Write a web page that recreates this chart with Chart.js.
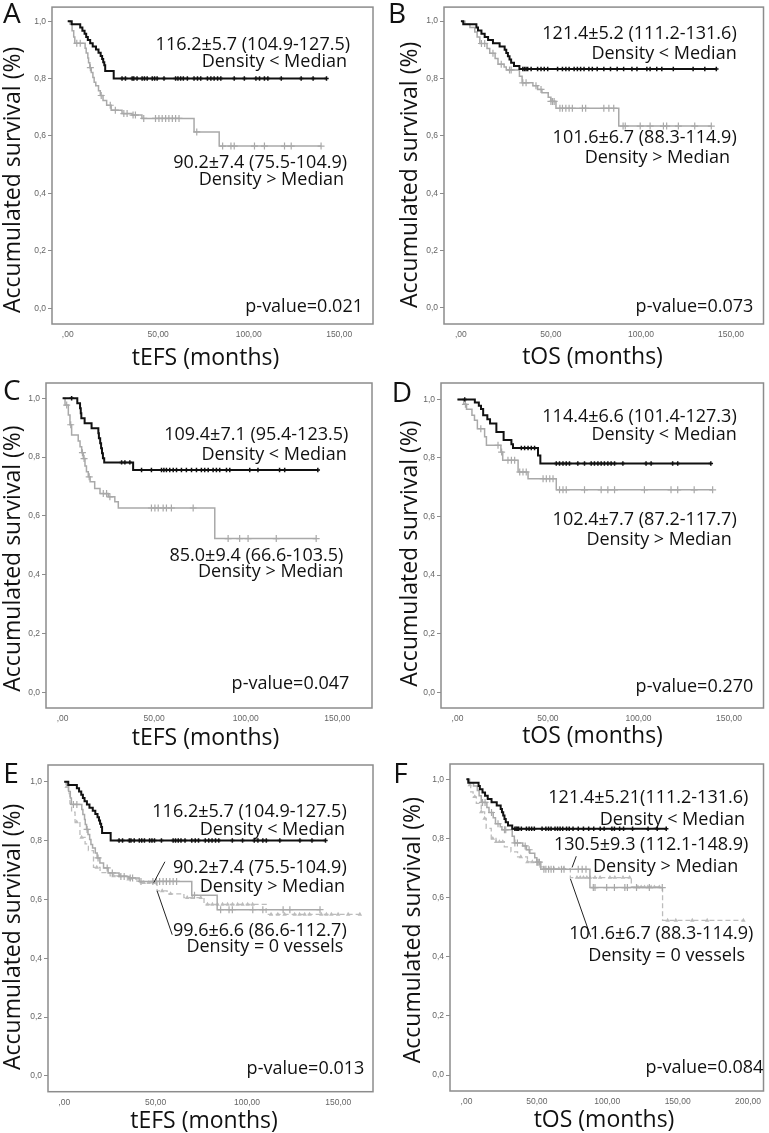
<!DOCTYPE html>
<html><head><meta charset="utf-8">
<script src="https://cdn.jsdelivr.net/npm/chart.js@4"></script>
<style>
html,body{margin:0;padding:0;background:#fff;}
#wrap{position:relative;width:769px;height:1133px;overflow:hidden;}
canvas{position:absolute;}
</style></head><body><div id="wrap"></div>
<script>
// ---------- DATA ----------
const yTickVals = [0, 0.2, 0.4, 0.6, 0.8, 1.0];
const yTickLabels = ['0,0', '0,2', '0,4', '0,6', '0,8', '1,0'];
const xTickVals = [0, 50, 100, 150, 200];
const xTickLabels = [',00', '50,00', '100,00', '150,00', '200,00'];
const yTitle = 'Accumulated survival (%)';

// tEFS, Density < Median
const A_lowT = [2.2,6.9,8.1,9.3,10.2,11.1,12.4,13.8,15.6,17.0,18.2,19.0,19.6,20.2,20.7,25.4];
const A_lowS = [.989,.978,.967,.956,.945,.934,.923,.912,.901,.890,.879,.868,.857,.846,.826,.800];
const A_lowC = [30,31.9,35.6,36.5,38.3,41.1,42.4,43.9,46.7,48,49.4,53.2,59.6,60.9,62.4,63.9,66.1,69.8,71.7,73.5,77.2,79.1,80.9,82.8,84.6,92,97.6,104,106,108.7,110.6,118,129,135.6,143];
// tEFS, Density > Median
const A_highT = [1.3,2.4,3.3,3.9,9.6,10.2,11.1,11.5,12.2,13.0,13.9,14.6,15.5,17.0,18.0,19.5,21.5,24.0,30.0,35.5,41.0,69.8,83.7];
const A_highS = [.989,.967,.945,.923,.906,.889,.872,.855,.838,.821,.804,.787,.775,.758,.741,.724,.707,.690,.678,.673,.661,.614,.565];
const A_highC = [5,6.9,12.5,18.5,23.5,26.3,31,32.8,36.1,37.4,42,48.5,50.4,52.2,54.1,55.9,57.8,59.6,61.5,71.3,85.6,90.2,92,103.2,108.7,119.8,123.5,140];
// tOS, Density < Median
const B_lowT = [1.3,8.6,9.5,11.4,13.2,15.1,17.8,21.5,24.3,25.2,26.1,27.0,27.9,29.5,32.5];
const B_lowS = [.989,.978,.967,.956,.945,.934,.923,.912,.900,.889,.878,.866,.855,.844,.833];
const B_lowC = [34.4,35.3,36.2,37.1,39,42.6,44.5,46.3,48.2,53.7,56.4,58.3,60.1,62.9,64.7,66.5,68.4,71.1,73,75.7,79.4,83.1,86.8,90.4,95,97.8,103.3,105.1,108.8,111.6,118,129,135.5,141.9];
// tOS, Density > Median
const B_highT = [2.2,5.0,7.7,9.0,10.5,14.5,16.0,19.0,20.6,24.0,25.2,32.5,34.0,40.0,42.6,45.0,48.5,50.0,52.8,87.7];
const B_highS = [.989,.978,.962,.945,.922,.905,.888,.870,.850,.840,.830,.808,.785,.775,.762,.750,.735,.720,.696,.634];
const B_highC = [11.4,13.2,17.8,22.4,27,27.9,34.4,36.2,41.7,44.5,50,50.9,51.8,55,56.4,58.3,60.1,61.9,67.5,69.3,79.4,82.2,84.9,90.1,91.3,99.6,105.1,112.5,114.3,120.8,129.9,139.1];
// panel C
const C_lowT = [8.0,9.5,9.9,10.2,12.0,15.8,19.5,19.8,20.5,21.0,21.5,22.0,22.7,38.5];
const C_lowS = [.983,.966,.949,.932,.915,.898,.881,.864,.847,.830,.813,.796,.782,.756];
const C_lowC = [4.9,32.2,34,36.7,43.1,48.5,54,55.3,56.7,58.5,60.4,62.2,64.9,67.6,70.4,73.1,75.8,77.6,79.5,82.2,84,85.8,89.5,91.3,102.2,106.7,118.5,121.3,139.4];
const C_highT = [1.3,3.1,4.0,4.9,8.5,9.5,10.4,11.3,12.2,13.0,14.0,15.0,17.5,20.4,24.9,28.5,30.4,83.1];
const C_highS = [.977,.943,.910,.875,.855,.835,.815,.795,.770,.750,.733,.716,.693,.676,.665,.648,.627,.523];
const C_highC = [2.2,4.4,10.8,11.7,14.5,22.2,24,25.8,48.5,50.4,52.2,54.9,56.7,59.4,71.3,90.4,96.7,101.3,116.7,138.5];
// panel D
const D_lowT = [9.6,11.8,13.0,14.2,16.5,18.0,21.5,25.5,29.8,30.7,44.5,45.8];
const D_lowS = [.989,.978,.967,.946,.932,.918,.889,.861,.847,.834,.808,.781];
const D_lowC = [4,35.3,37.1,39,40.8,42.6,54.6,56.4,58.3,60.1,61.9,66.5,70.2,73.9,75.7,77.6,79.4,81.2,83.1,84.9,86.8,91.4,104.2,107,118.9,121.7,140];
const D_highT = [3.5,5.0,8.0,9.4,11.0,15.0,16.0,24.0,25.0,33.5,39.0,54.6];
const D_highS = [.983,.966,.946,.929,.900,.872,.843,.820,.792,.752,.729,.691];
const D_highC = [4.4,12.9,22.4,24.4,27.9,29.8,31.6,34.4,36.2,38,47.3,49.1,51,52.8,56.4,58.3,60.1,70.2,79.4,83.1,86.8,103.3,118,121.7,130.8,141];
// Density = 0 vessels (tEFS / tOS)
const E_zeroT = [0.9,2.2,3.1,4.0,5.9,8.6,11.4,13.2,16.0,19.6,25.1,34.3,39.8,50.8,56.3,65.5,76.5,110.5];
const E_zeroS = [.983,.960,.926,.897,.863,.811,.789,.766,.709,.691,.680,.669,.657,.629,.619,.606,.583,.549];
const E_zeroC = [1.3,6.8,9.5,17.8,27,30.6,35.2,43.5,46.2,49,53.6,58.2,67.3,70.1,74.7,78.4,81.1,83.9,86.6,89.4,92.1,94.9,97.6,100.4,103.1,113.2,116.9,120.6,126.1,128.8,131.6,134.3,140.7,143.5,146.2,149.9,155.4,161.8];
const F_zeroT = [1.2,3.0,4.7,7.0,10.5,12.9,14.0,17.6,21.0,26.9,31.6,36.3,43.3,50.4,55.0,73.8,117.1,139.3];
const F_zeroS = [.981,.958,.941,.919,.890,.868,.834,.800,.789,.772,.755,.738,.721,.704,.698,.668,.636,.523];
const F_zeroC = [2.3,5.9,10.5,12.9,18.7,21.1,23.4,25.8,38.6,43.3,46.8,55,58.6,62.1,65.6,69.1,78.5,80.8,83.1,85.5,87.8,91.3,94.9,101.9,105.4,111.2,115.9,121.8,124.1,126.5,128.8,131.2,133.5,137,142.9,148.7,160.4,171,196.7];

// ---------- STYLES ----------
const STY = {
  low:  {line:'#111111', w:2,   mark:'cross',    r:2.2, mw:1.5, dash:[]},
  high: {line:'#a9a9a9', w:1.5, mark:'cross',    r:3.5, mw:1.2, dash:[]},
  zero: {line:'#bcbcbc', w:1.3, mark:'triangle', r:2.6, mw:0,   dash:[5,3]}
};

// ---------- PANELS ----------
const panels = [
 {letter:'A', left:0, top:0, w:385, h:375, frame:[52,3,373,324], xmin:-8.7, xmax:168.7, ymin:-0.055, ymax:1.049, nx:4,
  letterX:3, letterY:23, yTitleX:20, yTitleY:313, xTitle:'tEFS (months)', xTitleX:205.5, xTitleY:365,
  notes:[['116.2±5.7 (104.9-127.5)',350,50],['Density < Median',347,67],['90.2±7.4 (75.5-104.9)',347,168],['Density > Median',344,185],['p-value=0.021',363,312]],
  series:[['low',A_lowT,A_lowS,A_lowC],['high',A_highT,A_highS,A_highC]], leaders:[]},
 {letter:'B', left:385, top:0, w:384, h:375, frame:[59,3,380,324], xmin:-9.4, xmax:168.1, ymin:-0.056, ymax:1.049, nx:4,
  letterX:3, letterY:23, yTitleX:32, yTitleY:308, xTitle:'tOS (months)', xTitleX:207.5, xTitleY:364,
  notes:[['121.4±5.2 (111.2-131.6)',351.7,39],['Density < Median',351.7,59.3],['101.6±6.7 (88.3-114.9)',351.7,142.7],['Density > Median',345,163],['p-value=0.073',368.3,311.7]],
  series:[['low',B_lowT,B_lowS,B_lowC],['high',B_highT,B_highS,B_highC]], leaders:[]},
 {letter:'C', left:0, top:375, w:385, h:375, frame:[46,8,372,333], xmin:-9.1, xmax:169, ymin:-0.053, ymax:1.052, nx:4,
  letterX:3, letterY:25, yTitleX:20, yTitleY:316.7, xTitle:'tEFS (months)', xTitleX:205.5, xTitleY:370,
  notes:[['109.4±7.1 (95.4-123.5)',348.3,65],['Density < Median',346.7,85],['85.0±9.4 (66.6-103.5)',343.3,186],['Density > Median',343.3,202.3],['p-value=0.047',349.3,314]],
  series:[['low',C_lowT,C_lowS,C_lowC],['high',C_highT,C_highS,C_highC]], leaders:[]},
 {letter:'D', left:385, top:375, w:384, h:375, frame:[56,8,381.7,333], xmin:-9.1, xmax:169.1, ymin:-0.054, ymax:1.056, nx:4,
  letterX:6.7, letterY:26.7, yTitleX:32, yTitleY:311.7, xTitle:'tOS (months)', xTitleX:207.5, xTitleY:368.3,
  notes:[['114.4±6.6 (101.4-127.3)',351.7,46.7],['Density < Median',351.7,65],['102.4±7.7 (87.2-117.7)',351.7,150],['Density > Median',346.7,170],['p-value=0.270',368.3,316.7]],
  series:[['low',D_lowT,D_lowS,D_lowC],['high',D_highT,D_highS,D_highC]], leaders:[]},
 {letter:'E', left:0, top:750, w:385, h:383, frame:[48,15,373,341.7], xmin:-8.9, xmax:169, ymin:-0.054, ymax:1.057, nx:4,
  letterX:3.3, letterY:33.3, yTitleX:20, yTitleY:320, xTitle:'tEFS (months)', xTitleX:204, xTitleY:377.7,
  notes:[['116.2±5.7 (104.9-127.5)',346.7,66.7],['Density < Median',345,85],['90.2±7.4 (75.5-104.9)',346.7,123.3],['Density > Median',345,141.7],['99.6±6.6 (86.6-112.7)',346.7,186],['Density = 0 vessels',343.3,201.7],['p-value=0.013',364.3,324.3]],
  series:[['low',A_lowT,A_lowS,A_lowC],['high',A_highT,A_highS,A_highC],['zero',E_zeroT,E_zeroS,E_zeroC]],
  leaders:[[55.1,.728,49,.657],[50.8,.629,59.1,.48]]},
 {letter:'F', left:385, top:750, w:384, h:383, frame:[65,14,382.7,341], xmin:-11.7, xmax:211, ymin:-0.054, ymax:1.052, nx:5,
  letterX:8.3, letterY:33.3, yTitleX:35, yTitleY:313.3, xTitle:'tOS (months)', xTitleX:219, xTitleY:376.7,
  notes:[['121.4±5.21(111.2-131.6)',363.3,53.3],['Density < Median',360,75],['130.5±9.3 (112.1-148.9)',363.3,100],['Density > Median',353.3,121.7],['101.6±6.7 (88.3-114.9)',368.3,188.5],['Density = 0 vessels',360,211],['p-value=0.084',378.3,323.3]],
  series:[['low',B_lowT,B_lowS,B_lowC],['high',B_highT,B_highS,B_highC],['zero',F_zeroT,F_zeroS,F_zeroC]],
  leaders:[[78,.74,75,.702],[73.8,.664,88.3,.467]]}
];

// ---------- HELPERS ----------
function stepPts(T,S,C){
  const pts=[{x:0,y:1}];
  for(let i=0;i<T.length;i++) pts.push({x:T[i],y:S[i]});
  const end=Math.max(T[T.length-1], C.length?C[C.length-1]:0);
  pts.push({x:end,y:S[S.length-1]});
  return pts;
}
function survAt(T,S,t){ let s=1; for(let i=0;i<T.length;i++){ if(T[i]<=t) s=S[i]; } return s; }
function censPts(T,S,C){ return C.map(t=>({x:t,y:survAt(T,S,t)})); }

const decoPlugin = {
  id:'panelDeco',
  afterDraw(chart, args, o){
    const P=o.panel; if(!P) return;
    const ctx=chart.ctx, ca=chart.chartArea, xs=chart.scales.x, ys=chart.scales.y;
    ctx.save();
    ctx.strokeStyle='#8c8c8c'; ctx.lineWidth=1.5;
    ctx.strokeRect(ca.left, ca.top, ca.right-ca.left, ca.bottom-ca.top);
    ctx.strokeStyle='#222'; ctx.lineWidth=1;
    P.leaders.forEach(l=>{
      ctx.beginPath();
      ctx.moveTo(xs.getPixelForValue(l[0]), ys.getPixelForValue(l[1]));
      ctx.lineTo(xs.getPixelForValue(l[2]), ys.getPixelForValue(l[3]));
      ctx.stroke();
    });
    ctx.fillStyle='#111'; ctx.textBaseline='alphabetic';
    ctx.font='28px "Open Sans"'; ctx.textAlign='left';
    ctx.fillText(P.letter, P.letterX, P.letterY);
    ctx.font='23px "Open Sans"'; ctx.textAlign='center';
    ctx.fillText(P.xTitle, P.xTitleX, P.xTitleY);
    ctx.save(); ctx.translate(P.yTitleX, P.yTitleY); ctx.rotate(-Math.PI/2);
    ctx.textAlign='left'; ctx.fillText(yTitle, 0, 0); ctx.restore();
    ctx.font='18px "Open Sans"'; ctx.textAlign='right';
    P.notes.forEach(n=>ctx.fillText(n[0], n[1], n[2]));
    ctx.restore();
  }
};

function build(){
  const wrap=document.getElementById('wrap');
  panels.forEach(P=>{
    const cv=document.createElement('canvas');
    cv.width=P.w; cv.height=P.h;
    cv.style.left=P.left+'px'; cv.style.top=P.top+'px';
    cv.style.width=P.w+'px'; cv.style.height=P.h+'px';
    wrap.appendChild(cv);
    const datasets=[];
    P.series.forEach(s=>{
      const st=STY[s[0]];
      datasets.push({type:'line', data:stepPts(s[1],s[2],s[3]), stepped:true, borderColor:st.line, borderWidth:st.w, borderDash:st.dash, pointRadius:0, fill:false});
      datasets.push({type:'scatter', data:censPts(s[1],s[2],s[3]), showLine:false, pointStyle:st.mark, pointRadius:st.r,
        borderColor:st.line, backgroundColor:st.line, pointBorderWidth:st.mw, borderWidth:st.mw});
    });
    const xv=xTickVals.slice(0,P.nx);
    new Chart(cv,{
      type:'scatter',
      data:{datasets},
      plugins:[decoPlugin],
      options:{
        responsive:false, animation:false, events:[], devicePixelRatio:1,
        layout:{padding:{left:0, top:P.frame[1], right:P.w-P.frame[2], bottom:0}},
        plugins:{legend:{display:false}, tooltip:{enabled:false}, panelDeco:{panel:P}},
        scales:{
          x:{type:'linear', min:P.xmin, max:P.xmax,
             afterFit:s=>{s.height=P.h-P.frame[3];},
             afterBuildTicks:s=>{s.ticks=xv.map(v=>({value:v}));},
             ticks:{autoSkip:false, maxRotation:0, padding:6, color:'#666', font:{family:'Liberation Sans', size:8.5},
                    callback:v=>xTickLabels[xTickVals.indexOf(v)]},
             grid:{display:false, drawTicks:false}, border:{display:false}},
          y:{type:'linear', min:P.ymin, max:P.ymax,
             afterFit:s=>{s.width=P.frame[0];},
             afterBuildTicks:s=>{s.ticks=yTickVals.map(v=>({value:v}));},
             ticks:{autoSkip:false, padding:2, color:'#666', font:{family:'Liberation Sans', size:8.5},
                    callback:v=>yTickLabels[yTickVals.indexOf(v)]},
             grid:{drawOnChartArea:false, drawTicks:true, tickLength:4, color:'#8c8c8c'}, border:{display:false}}
        }
      }
    });
  });
}
const fontsReady = document.fonts ? Promise.all([
  document.fonts.load('18px "Open Sans"'), document.fonts.load('23px "Open Sans"'), document.fonts.load('9px "Liberation Sans"')
]).catch(()=>{}) : Promise.resolve();
fontsReady.then(build);
</script>
</body></html>
